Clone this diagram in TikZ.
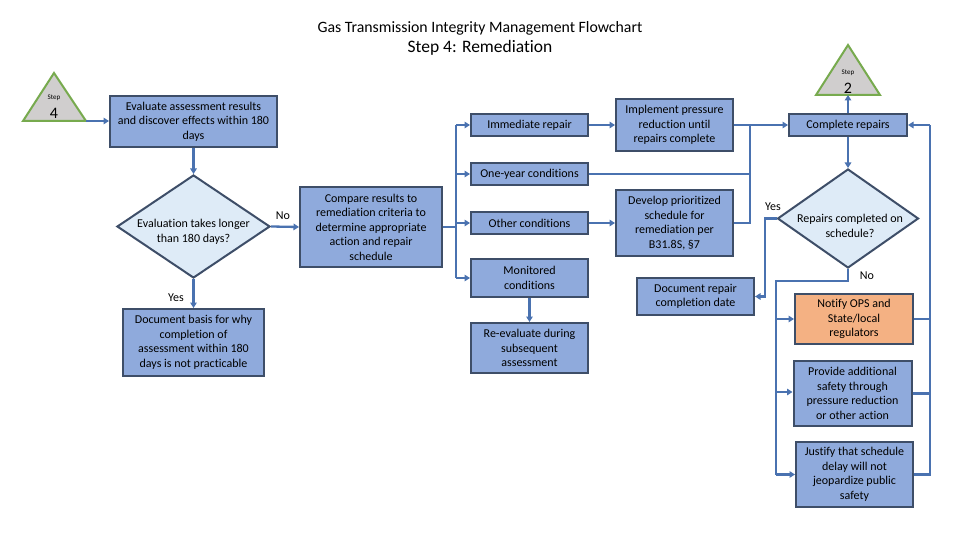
\documentclass[tikz,border=0pt]{standalone}
\usepackage{fontspec}
\setmainfont{Carlito}[Ligatures=NoCommon]
\usetikzlibrary{shapes.geometric,arrows.meta}
\definecolor{boxfill}{RGB}{143,170,220}
\definecolor{boxline}{RGB}{62,78,104}
\definecolor{dfill}{RGB}{222,235,247}
\definecolor{conn}{RGB}{74,114,176}
\definecolor{orangefill}{RGB}{244,177,131}
\definecolor{trifill}{RGB}{208,206,206}
\definecolor{trigreen}{RGB}{119,170,78}
\begin{document}
\begin{tikzpicture}[x=1pt,y=-1pt,
 txt/.style={font=\fontsize{12}{14.5}\selectfont},
 bx/.style={txt, draw=boxline, fill=boxfill, line width=2pt, inner sep=0pt, align=center},
 dia/.style={draw=boxline, fill=dfill, line width=2pt, shape=diamond, inner sep=0pt},
 dtxt/.style={txt, align=center, inner sep=0pt},
 ln/.style={draw=conn, line width=2.3pt},
 arr/.style={ln, -{Triangle[length=5.5pt,width=6.5pt]}},
 lbl/.style={txt, inner sep=0pt},
 tri/.style={fill=trifill, draw=trigreen, line width=2pt, line join=miter},
]
\useasboundingbox (0,0) rectangle (960,540);
\fill[white] (0,0) rectangle (960,540);

% title
\node[font=\fontsize{15.8}{17}\selectfont] (title1) at (480,28) {Gas Transmission Integrity Management Flowchart};
\node[font=\fontsize{17.5}{19}\selectfont] (title2) at (480,48) {Step 4: Remediation};

% step triangles
\draw[tri] (54,73) -- (86,121) -- (23,121) -- cycle;
\coordinate (t4) at (86,121);
\node[font=\fontsize{7}{8}\selectfont] (s4a) at (54,98) {Step};
\node[font=\fontsize{16}{17}\selectfont] (s4b) at (54,113) {4};

\draw[tri] (848,45) -- (880,95) -- (816,95) -- cycle;
\coordinate (t2) at (848,95);
\node[font=\fontsize{7}{8}\selectfont] (s2a) at (848,73) {Step};
\node[font=\fontsize{16}{17}\selectfont] (s2b) at (848,88) {2};

% boxes
\node[bx, minimum width=167pt, minimum height=51pt] (eval) at (193.5,121.5) {Evaluate assessment results\\and discover effects within 180\\days};
\node[dia, aspect=1.5, minimum width=153pt, minimum height=103pt] (dia1) at (193.5,226.5) {};
\node[dtxt] (dia1t) at (193.5,232) {Evaluation takes longer\\than 180 days?};
\node[bx, minimum width=141pt, minimum height=67pt] (doc) at (193.5,342.5) {Document basis for why\\completion of\\assessment within 180\\days is not practicable};
\node[bx, minimum width=142pt, minimum height=80pt] (cmp) at (371,227) {Compare results to\\remediation criteria to\\determine appropriate\\action and repair\\schedule};

\node[bx, minimum width=117pt, minimum height=22pt] (imm) at (529.5,125) {Immediate repair};
\node[bx, minimum width=117pt, minimum height=22pt] (one) at (529.5,174) {One-year conditions};
\node[bx, minimum width=117pt, minimum height=22pt] (oth) at (529.5,223) {Other conditions};
\node[bx, minimum width=117pt, minimum height=38pt] (mon) at (529.5,278) {Monitored\\conditions};
\node[bx, minimum width=117pt, minimum height=50pt] (reev) at (529.5,348) {Re-evaluate during\\subsequent\\assessment};

\node[bx, minimum width=117pt, minimum height=52pt] (impl) at (674.5,125) {Implement pressure\\reduction until\\repairs complete};
\node[bx, minimum width=117pt, minimum height=66pt] (dev) at (674.5,223) {Develop prioritized\\schedule for\\remediation per\\B31.8S, §7};
\node[bx, minimum width=117pt, minimum height=37pt] (docrep) at (695.5,296.5) {Document repair\\completion date};

\node[bx, minimum width=118pt, minimum height=22pt] (comp) at (848,125) {Complete repairs};
\node[dia, aspect=1.42, minimum width=141pt, minimum height=99pt] (dia2) at (848,218.5) {};
\node[dtxt] (dia2t) at (850,226) {Repairs completed on\\schedule?};
\node[bx, fill=orangefill, minimum width=118pt, minimum height=50pt] (notify) at (854,319) {Notify OPS and\\State/local\\regulators};
\node[bx, minimum width=118pt, minimum height=65pt] (prov) at (852.5,393.5) {Provide additional\\safety through\\pressure reduction\\or other action};
\node[bx, minimum width=117pt, minimum height=65pt] (just) at (854.5,474.5) {Justify that schedule\\delay will not\\jeopardize public\\safety};

% labels
\node[lbl] (yes1) at (176,298) {Yes};
\node[lbl] (no1) at (283,216) {No};
\node[lbl] (yes2) at (773,207) {Yes};
\node[lbl] (no2) at (867,276) {No};

% connectors
\draw[arr] (t4) -- (t4 -| eval.west);
\draw[arr] (eval.south) -- (dia1.north);
\draw[arr] (dia1.south) -- (doc.north);
\draw[arr] (dia1.east) -- (cmp.west);

\coordinate (br) at (456,227);
\draw[ln] (cmp.east) -- (cmp.east -| br);
\draw[ln] (br |- imm.west) -- (br |- mon.west);
\draw[arr] (br |- imm.west) -- (imm.west);
\draw[arr] (br |- one.west) -- (one.west);
\draw[arr] (br |- oth.west) -- (oth.west);
\draw[arr] (br |- mon.west) -- (mon.west);
\draw[arr] (mon.south) -- (reev.north);

\draw[arr] (imm.east) -- (impl.west);
\draw[arr] (oth.east) -- (dev.west);

\coordinate (j1) at (750,125);
\draw[arr] (impl.east) -- (comp.west);
\draw[ln] (one.east) -- (one.east -| j1);
\draw[ln] (dev.east) -- (dev.east -| j1) -- (j1);

\draw[arr] (comp.north) -- (t2);
\draw[arr] (comp.south) -- (dia2.north);

\coordinate (yv) at (765,0);
\draw[arr] (dia2.west) -- (dia2.west -| yv) -- (yv |- docrep.east) -- (docrep.east);

\coordinate (nl) at (776,281);
\draw[ln] (dia2.south) -- (dia2.south |- nl) -- (nl) -- (nl |- just.west);
\draw[arr] (nl |- notify.west) -- (notify.west);
\draw[arr] (776,392) -- (776,392 -| prov.west);
\draw[arr] (nl |- just.west) -- (just.west);

\coordinate (rv) at (930,125);
\draw[ln] (notify.east) -- (notify.east -| rv);
\draw[ln] (prov.east) -- (prov.east -| rv);
\draw[ln] (just.east) -- (just.east -| rv) -- (rv);
\draw[arr] (rv) -- (comp.east);
\end{tikzpicture}
\end{document}
